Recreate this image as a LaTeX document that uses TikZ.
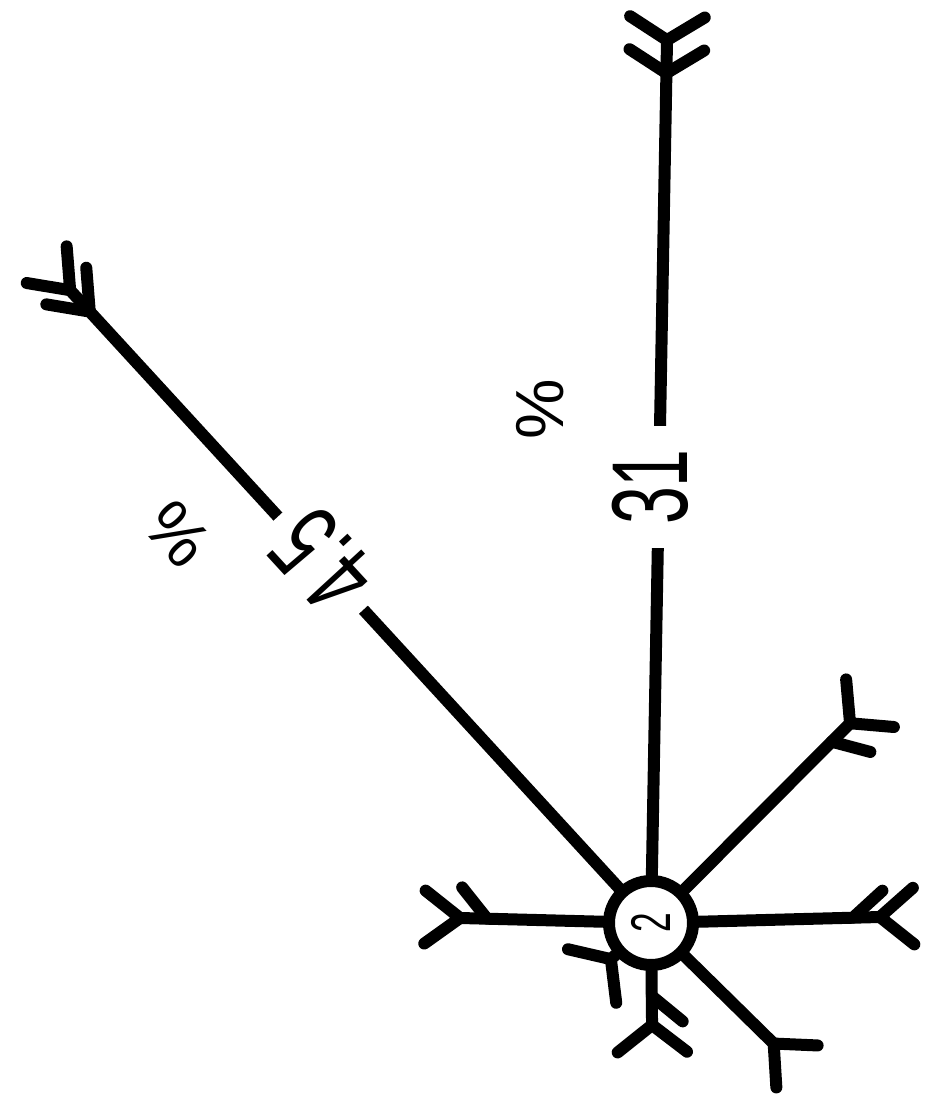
\documentclass[tikz,border=0pt]{standalone}
\usepackage{fontspec}
\setmainfont{Liberation Sans}
\newfontfamily\narrowfont[FakeStretch=0.63]{Liberation Sans}
\usetikzlibrary{calc}

\begin{document}
\begin{tikzpicture}[
  x=0.5pt, y=0.5pt,
  ray/.style={line width=6pt, line cap=round, line join=round},
  hub/.style={circle, draw, line width=6pt, minimum size=42pt, inner sep=0pt, font=\narrowfont\fontsize{28}{28}\selectfont},
  lbl/.style={fill=white, inner ysep=2pt, font=\narrowfont\fontsize{54}{54}\selectfont},
  pct/.style={inner sep=0pt, font=\fontsize{34}{34}\selectfont}
]
\useasboundingbox (0,0) rectangle (926,1105);
\node[hub, rotate=90] (c) at (651,182) {2};

% rays with their first feather
\foreach \nm/\ang/\len/\sp in {N/88.96/883/58, NW/132.55/859/38, NE/45.1/282/50, E/1.5/229/40,
    S/270.6/102/52, W/178.5/191/37, SW/222/54/55, SE/315.5/172/42}{
  \coordinate (t\nm) at ($(c.center)+(\ang:\len)$);
  \draw[ray] (c) -- (t\nm);
  \draw[ray] ($(t\nm)+(\ang+\sp:44)$) -- (t\nm) -- ($(t\nm)+(\ang-\sp:44)$);
}
% second feathers
\foreach \nm/\ang/\len/\sp in {N/88.96/850/58, NW/132.55/830/38}{
  \coordinate (f\nm) at ($(c.center)+(\ang:\len)$);
  \draw[ray] ($(f\nm)+(\ang+\sp:44)$) -- (f\nm) -- ($(f\nm)+(\ang-\sp:44)$);
}
\foreach \nm/\ang/\len/\sd in {NE/45.1/256/-60, E/1.5/202/41, S/270.6/73/50, W/178.5/164/-50}{
  \coordinate (f\nm) at ($(c.center)+(\ang:\len)$);
  \draw[ray] (f\nm) -- ++(\ang+\sd:40);
}

\node[lbl, inner xsep=11.6pt, rotate=90] (l31) at (650,618) {31};
\node[lbl, inner xsep=7.9pt, rotate=132.55] (l45) at (323,544) {4.5};
\node[pct, rotate=90] (p31) at (540,696) {\%};
\node[pct, rotate=132.55] (p45) at (178,571) {\%};
\end{tikzpicture}
\end{document}
